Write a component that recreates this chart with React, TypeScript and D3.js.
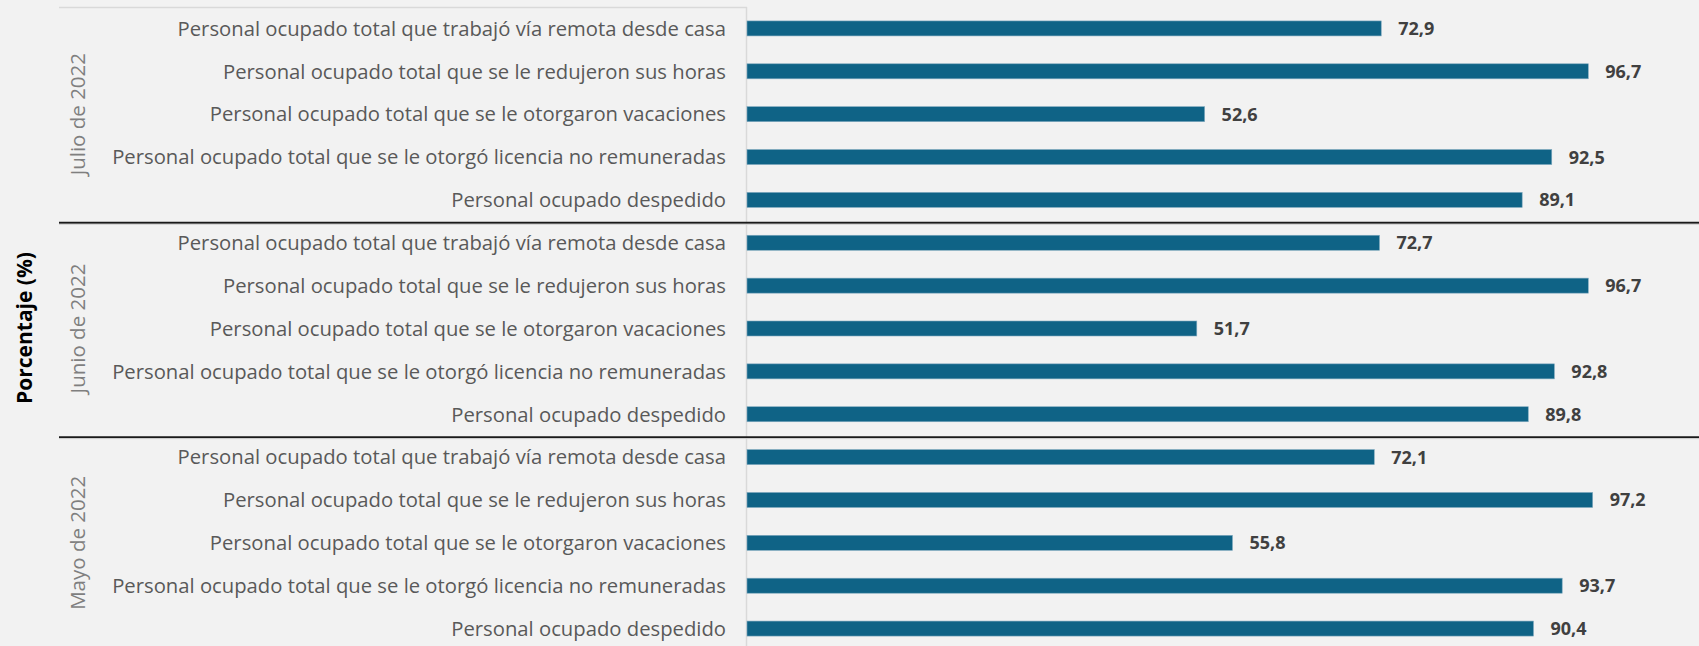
import React, { useEffect } from "react";
import * as d3 from "d3";

const groups = ["Julio de 2022", "Junio de 2022", "Mayo de 2022"];
const categories = [
  "Personal ocupado total que trabajó vía remota desde casa",
  "Personal ocupado total que se le redujeron sus horas",
  "Personal ocupado total que se le otorgaron vacaciones",
  "Personal ocupado total que se le otorgó licencia no remuneradas",
  "Personal ocupado despedido",
];
const julio = [72.9, 96.7, 52.6, 92.5, 89.1];
const junio = [72.7, 96.7, 51.7, 92.8, 89.8];
const mayo = [72.1, 97.2, 55.8, 93.7, 90.4];
const seriesByGroup = [julio, junio, mayo];
const yTitle = "Porcentaje (%)";

const W = 1699;
const H = 646;
const FONT = "'Open Sans', 'Noto Sans', sans-serif";

export default function App() {
  useEffect(() => {
    document.body.style.margin = "0";
    document.body.style.background = "#f2f2f2";
  }, []);

  const rows = groups.flatMap((g, gi) =>
    categories.map((c, ci) => ({ key: `${gi}-${ci}`, group: g, gi, cat: c, value: seriesByGroup[gi][ci] }))
  );

  const x = d3.scaleLinear().domain([0, 100]).range([747, 1617]);
  const y = d3
    .scaleBand<string>()
    .domain(rows.map((r) => r.key))
    .range([7, 650])
    .paddingInner(0.65)
    .paddingOuter(0.325);
  const step = y.step();
  const groupTop = (gi: number) => (y(`${gi}-0`) as number) - step * y.paddingInner() / 2;
  const groupBottom = (gi: number) => groupTop(gi) + step * categories.length;

  const axisX = x(0);
  const fmt = (v: number) => d3.format(".1f")(v).replace(".", ",");

  return (
    <svg width={W} height={H} style={{ display: "block", background: "#f2f2f2" }} fontFamily={FONT}>
      <rect x={0} y={0} width={W} height={H} fill="#f2f2f2" />
      {/* top border of label area */}
      <line x1={59} x2={axisX} y1={7.5} y2={7.5} stroke="#d9d9d9" strokeWidth={1.5} />
      {/* category axis line */}
      <line x1={axisX - 0.5} x2={axisX - 0.5} y1={7} y2={H} stroke="#d9d9d9" strokeWidth={1.5} />
      {/* group separators */}
      {groups.slice(0, -1).map((g, gi) => (
        <g key={g}>
          <line x1={59} x2={W} y1={groupBottom(gi) + 1.5} y2={groupBottom(gi) + 1.5} stroke="#1a1a1a" strokeWidth={2} />
          <line x1={59} x2={W} y1={groupBottom(gi) + 3} y2={groupBottom(gi) + 3} stroke="#d0d0d0" strokeWidth={1} />
        </g>
      ))}
      {/* bars */}
      {rows.map((r) => (
        <rect
          key={r.key}
          x={axisX}
          y={y(r.key)}
          width={x(r.value) - axisX}
          height={y.bandwidth()}
          fill="#0f6386"
          stroke="#7fa9bf"
          strokeWidth={0.6}
        />
      ))}
      {/* value labels */}
      {rows.map((r) => (
        <text
          key={"v" + r.key}
          x={x(r.value) + 17}
          y={(y(r.key) as number) + y.bandwidth() / 2}
          dy="0.36em"
          fontSize={18}
          fontWeight={700}
          fill="#404040"
        >
          {fmt(r.value)}
        </text>
      ))}
      {/* category labels */}
      {rows.map((r) => (
        <text
          key={"c" + r.key}
          x={axisX - 21}
          y={(y(r.key) as number) + y.bandwidth() / 2}
          dy="0.36em"
          textAnchor="end"
          fontSize={20.25}
          fill="#595959"
        >
          {r.cat}
        </text>
      ))}
      {/* group labels */}
      {groups.map((g, gi) => {
        const cy = (groupTop(gi) + groupBottom(gi)) / 2;
        return (
          <text
            key={"g" + g}
            transform={`translate(78,${cy}) rotate(-90)`}
            textAnchor="middle"
            dy="0.36em"
            fontSize={20.5}
            fill="#7f7f7f"
          >
            {g}
          </text>
        );
      })}
      <text
        transform={`translate(24,${328}) rotate(-90)`}
        textAnchor="middle"
        dy="0.36em"
        fontSize={21}
        fontWeight={700}
        fill="#000"
      >
        {yTitle}
      </text>
    </svg>
  );
}
